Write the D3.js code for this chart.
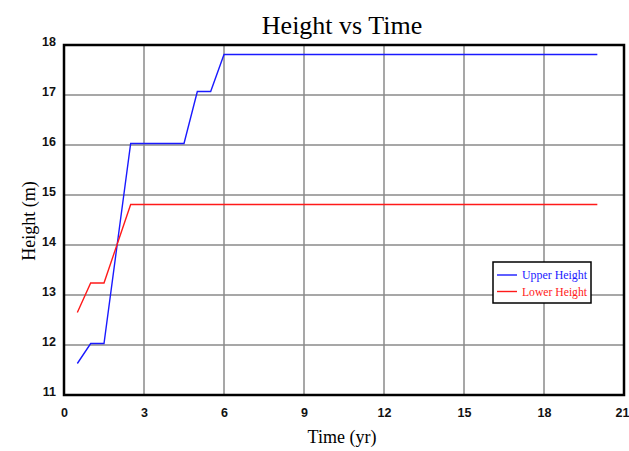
<!DOCTYPE html>
<html>
<head>
<meta charset="utf-8">
<script src="https://cdn.jsdelivr.net/npm/d3@7"></script>
<style>
  html, body { margin: 0; padding: 0; background: #fff; }
  svg { display: block; }
</style>
</head>
<body>
<svg id="chart" width="629" height="451"></svg>
<script>
// Tree height bounds over time
const timeUpper = [0.5, 1, 1.5, 2.5, 4.5, 5, 5.5, 6, 20];
const upperHeight = [11.63, 12.03, 12.03, 16.03, 16.03, 17.07, 17.07, 17.81, 17.81];
const timeLower = [0.5, 1, 1.5, 2.5, 20];
const lowerHeight = [12.65, 13.24, 13.24, 14.81, 14.81];
const xTicks = [0, 3, 6, 9, 12, 15, 18, 21];
const yTicks = [11, 12, 13, 14, 15, 16, 17, 18];
const seriesNames = ["Upper Height", "Lower Height"];
const seriesColors = ["#1a1aff", "#ff1a1a"];

const svg = d3.select("#chart");
const margin = { left: 64, right: 5, top: 45, bottom: 56 };
const W = 629, H = 451;
const x = d3.scaleLinear().domain([0, 21]).range([margin.left, W - margin.right]);
const y = d3.scaleLinear().domain([11, 18]).range([H - margin.bottom, margin.top]);

// grid
const grid = svg.append("g");
grid.selectAll("line.vx").data(xTicks.slice(1, -1)).join("line")
  .attr("x1", d => x(d)).attr("x2", d => x(d))
  .attr("y1", y(11)).attr("y2", y(18))
  .attr("stroke", "#8a8a8a").attr("stroke-width", 1.5);
grid.selectAll("line.hy").data(yTicks.slice(1, -1)).join("line")
  .attr("x1", x(0)).attr("x2", x(21))
  .attr("y1", d => y(d)).attr("y2", d => y(d))
  .attr("stroke", "#8a8a8a").attr("stroke-width", 1.5);

// series lines
const series = [
  timeUpper.map((t, i) => [t, upperHeight[i]]),
  timeLower.map((t, i) => [t, lowerHeight[i]])
];
const line = d3.line().x(d => x(d[0])).y(d => y(d[1]));
svg.selectAll("path.series").data(series).join("path")
  .attr("class", "series")
  .attr("d", line)
  .attr("fill", "none")
  .attr("stroke", (d, i) => seriesColors[i])
  .attr("stroke-width", 1.4);

// frame
svg.append("rect")
  .attr("x", x(0)).attr("y", y(18))
  .attr("width", x(21) - x(0)).attr("height", y(11) - y(18))
  .attr("fill", "none").attr("stroke", "#000").attr("stroke-width", 2.5);

// axes (labels only)
const tickFont = "'Liberation Sans', Arial, sans-serif";
const xAxis = d3.axisBottom(x).tickValues(xTicks).tickFormat(d3.format("d")).tickSize(0).tickPadding(13);
const gx = svg.append("g").attr("transform", `translate(0,${y(11)})`).call(xAxis);
const yAxis = d3.axisLeft(y).tickValues(yTicks).tickFormat(d3.format("d")).tickSize(0).tickPadding(8);
const gy = svg.append("g").attr("transform", `translate(${x(0)},0)`).call(yAxis);
[gx, gy].forEach(g => {
  g.select(".domain").remove();
  g.selectAll("text")
    .attr("font-family", tickFont)
    .attr("font-weight", "bold")
    .attr("font-size", 12.5)
    .attr("fill", "#111");
});
gy.selectAll("text").attr("dy", "0.32em").attr("y", -4);
// keep the last x label inside the page edge
gx.selectAll(".tick text").filter(d => d === xTicks[xTicks.length - 1])
  .attr("text-anchor", "end").attr("x", W - x(xTicks[xTicks.length - 1]));

// title and axis titles
const serif = "'Liberation Serif', 'Times New Roman', serif";
svg.append("text")
  .attr("x", 342).attr("y", 34)
  .attr("text-anchor", "middle")
  .attr("font-family", serif)
  .attr("font-size", 26)
  .text("Height vs Time");
svg.append("text")
  .attr("x", 342).attr("y", 443)
  .attr("text-anchor", "middle")
  .attr("font-family", serif)
  .attr("font-size", 18)
  .text("Time (yr)");
svg.append("text")
  .attr("transform", "translate(35,221) rotate(-90)")
  .attr("text-anchor", "middle")
  .attr("font-family", serif)
  .attr("font-size", 18)
  .text("Height (m)");

// legend
const legend = svg.append("g").attr("transform", "translate(493,262)");
legend.append("rect")
  .attr("width", 98).attr("height", 41)
  .attr("fill", "#fff").attr("stroke", "#000").attr("stroke-width", 1.5);
const items = legend.selectAll("g.item").data(seriesNames).join("g")
  .attr("transform", (d, i) => `translate(0,${13 + i * 16.5})`);
items.append("line")
  .attr("x1", 4).attr("x2", 24)
  .attr("stroke", (d, i) => seriesColors[i]).attr("stroke-width", 1.4);
items.append("text")
  .attr("x", 29).attr("y", 4)
  .attr("font-family", serif)
  .attr("font-size", 12)
  .attr("textLength", 65)
  .attr("lengthAdjust", "spacingAndGlyphs")
  .attr("fill", (d, i) => seriesColors[i])
  .text(d => d);
</script>
</body>
</html>
